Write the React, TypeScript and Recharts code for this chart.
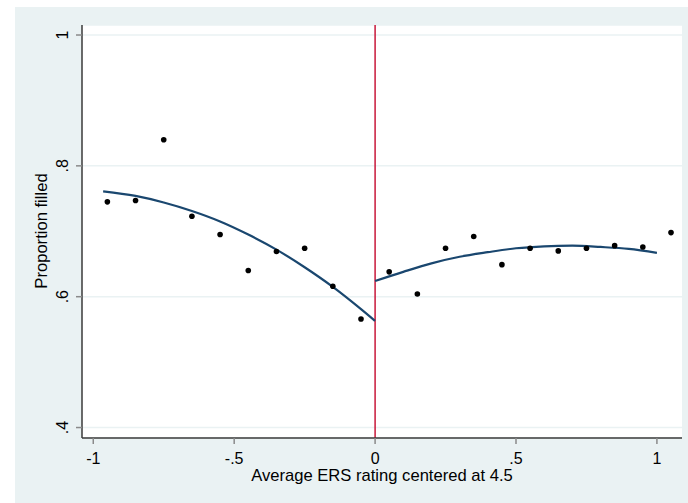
import { ComposedChart, Line, Scatter, XAxis, YAxis, CartesianGrid, ReferenceLine } from "recharts";

// binned means (x = rating centered at 4.5)
const leftBinsX = [-0.95, -0.85, -0.75, -0.65, -0.55, -0.45, -0.35, -0.25, -0.15, -0.05];
const leftBinsY = [0.745, 0.747, 0.840, 0.723, 0.695, 0.640, 0.669, 0.674, 0.616, 0.566];
const rightBinsX = [0.05, 0.15, 0.25, 0.35, 0.45, 0.55, 0.65, 0.75, 0.85, 0.95, 1.05];
const rightBinsY = [0.638, 0.604, 0.674, 0.692, 0.649, 0.674, 0.670, 0.674, 0.678, 0.676, 0.698];

// fitted curves on each side of the cutoff
const leftFitX = [-0.965, -0.85, -0.75, -0.65, -0.55, -0.45, -0.35, -0.25, -0.15, -0.05, 0];
const leftFitY = [0.761, 0.754, 0.744, 0.731, 0.715, 0.695, 0.672, 0.645, 0.615, 0.581, 0.563];
const rightFitX = [0, 0.1, 0.2, 0.3, 0.4, 0.5, 0.6, 0.7, 0.8, 0.9, 1.0];
const rightFitY = [0.624, 0.638, 0.651, 0.661, 0.668, 0.674, 0.677, 0.678, 0.676, 0.673, 0.667];

const xTicks = [-1, -0.5, 0, 0.5, 1];
const yTicks = [0.4, 0.6, 0.8, 1];

const zip = (xs: number[], ys: number[]) => xs.map((x, i) => ({ x, y: ys[i] }));

const fmt = (v: number) => {
  if (v === 0) return "0";
  const s = String(v);
  return s.replace(/^0\./, ".").replace(/^-0\./, "-.");
};

const FONT = "'Liberation Sans', Arial, sans-serif";
const BG = "#EAF2F3";

const XTick = ({ x, y, payload }: any) => (
  <text x={x} y={464} textAnchor="middle" fontSize={16} fontFamily={FONT} fill="#000">
    {fmt(payload.value)}
  </text>
);

const YTick = ({ y, payload }: any) => (
  <text
    x={68}
    y={y}
    transform={`rotate(-90 68 ${y})`}
    textAnchor="middle"
    fontSize={16}
    fontFamily={FONT}
    fill="#000"
  >
    {fmt(payload.value)}
  </text>
);

const Dot = ({ cx, cy }: any) => <circle cx={cx} cy={cy} r={2.8} fill="#000" />;

export default function App() {
  return (
    <div style={{ position: "absolute", left: 0, top: 0, width: 688, height: 503, background: "#fff" }}>
      <div style={{ position: "absolute", left: 15, top: 7, width: 673, height: 496, background: BG }} />
      <div style={{ position: "absolute", left: 0, top: 0 }}>
        <ComposedChart width={688} height={503} margin={{ top: 25, right: 6, bottom: 35, left: 22 }}>
          <CartesianGrid vertical={false} stroke={BG} strokeWidth={1.5} fill="#fff" />
          <XAxis
            type="number"
            dataKey="x"
            domain={[-1.04, 1.089]}
            ticks={xTicks}
            allowDataOverflow
            height={30}
            tick={XTick}
            tickSize={6}
            tickLine={{ stroke: "#8a8a8a", strokeWidth: 1.5 }}
            axisLine={{ stroke: "#3a3a3a", strokeWidth: 1.5 }}
            label={{
              content: () => (
                <text x={382} y={481} textAnchor="middle" fontSize={16.6} fontFamily={FONT} fill="#000">
                  Average ERS rating centered at 4.5
                </text>
              ),
            }}
          />
          <YAxis
            type="number"
            dataKey="y"
            domain={[0.384, 1.0153]}
            ticks={yTicks}
            allowDataOverflow
            width={60}
            tick={YTick}
            tickSize={6}
            tickLine={{ stroke: "#8a8a8a", strokeWidth: 1.5 }}
            axisLine={{ stroke: "#3a3a3a", strokeWidth: 1.5 }}
            label={{
              content: () => (
                <text
                  x={47}
                  y={231}
                  transform="rotate(-90 47 231)"
                  textAnchor="middle"
                  fontSize={16.6}
                  fontFamily={FONT}
                  fill="#000"
                >
                  Proportion filled
                </text>
              ),
            }}
          />
          <ReferenceLine x={0} stroke="#C8173A" strokeWidth={1.5} />
          <Scatter data={zip(leftBinsX, leftBinsY)} shape={Dot} isAnimationActive={false} />
          <Scatter data={zip(rightBinsX, rightBinsY)} shape={Dot} isAnimationActive={false} />
          <Line
            data={zip(leftFitX, leftFitY)}
            dataKey="y"
            type="monotone"
            stroke="#1A476F"
            strokeWidth={2.2}
            dot={false}
            isAnimationActive={false}
          />
          <Line
            data={zip(rightFitX, rightFitY)}
            dataKey="y"
            type="monotone"
            stroke="#1A476F"
            strokeWidth={2.2}
            dot={false}
            isAnimationActive={false}
          />
        </ComposedChart>
      </div>
    </div>
  );
}
